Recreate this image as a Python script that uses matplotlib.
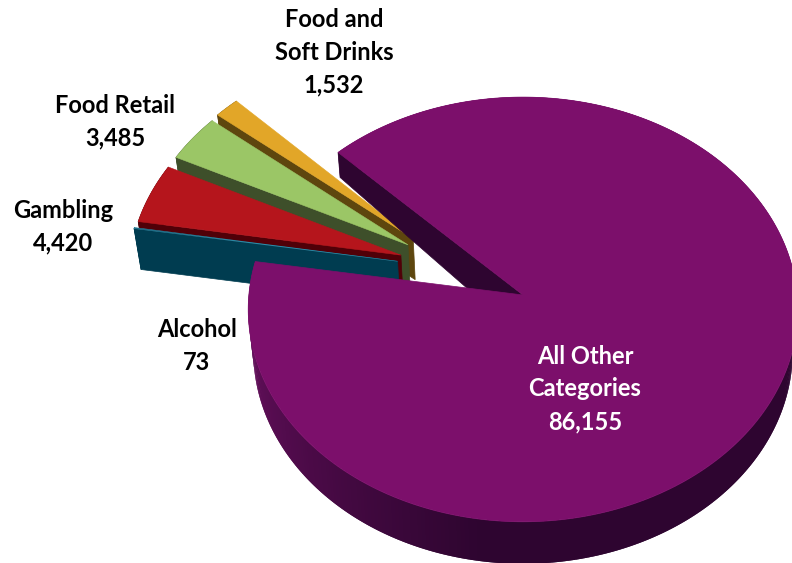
import numpy as np
import matplotlib
matplotlib.use("Agg")
import matplotlib.pyplot as plt
from matplotlib.colors import to_rgb
from matplotlib.patches import Polygon

categories = ["All Other\nCategories", "Alcohol", "Gambling", "Food Retail", "Food and\nSoft Drinks"]
values = [86155, 73, 4420, 3485, 1532]
top_colors = ["#7C0F6B", "#004056", "#B5151C", "#9BC666", "#E2A628"]
wall_colors = ["#2E0530", "#003C50", "#500008", "#3E4F2A", "#5E460E"]
label_xy = [(585, 389), (197, 346), (63, 227), (115, 122), (334, 52)]
label_colors = ["white", "black", "black", "black", "black"]

# camera used for the tilted disc
CX, CY = 523, 295
D = 14.7
F = 4030
C = 0.771
START = 135.0
EXPLODE = 0.49
DEPTH = 41


def project(x, y, depth=0.0):
    s = F / (D + y)
    px = CX + x * s
    py = CY - C * y * s + depth
    # vertical edges lean in slightly towards the middle
    px = px + (CX - px) * 0.018 * (depth / DEPTH)
    return px, py


def main_depth(y):
    return 42 - 17 * np.clip(y, 0, None) / 0.707


def arc(cx0, cy0, radius, a0, a1, n=200):
    t = np.radians(np.linspace(a0, a1, n))
    return cx0 + radius * np.cos(t), cy0 + radius * np.sin(t)


def draw_main(ax, a_start, a_end):
    xs, ys = arc(0, 0, 1.0, a_start, a_end, 400)
    # outer wall, lighter on the left and dark towards the front
    wall_left = np.array(to_rgb("#6A1060"))
    wall_dark = np.array(to_rgb("#2E0530"))
    for i in range(len(xs) - 1):
        j = min(i + 2, len(xs) - 1)
        quad = [project(xs[i], ys[i]), project(xs[j], ys[j]),
                project(xs[j], ys[j], main_depth(ys[j])), project(xs[i], ys[i], main_depth(ys[i]))]
        ang = np.degrees(np.arctan2(ys[i], xs[i])) % 360
        t = np.clip((ang - 180) / 82, 0, 1)
        col = (1 - t) * wall_left + t * wall_dark
        ax.add_patch(Polygon(quad, closed=True, fc=col, ec="none"))
    # inner cut face
    rim_x, rim_y = np.cos(np.radians(a_start)), np.sin(np.radians(a_start))
    face = [project(0, 0), project(rim_x, rim_y),
            project(rim_x, rim_y, main_depth(rim_y)), project(0, 0, main_depth(0))]
    ax.add_patch(Polygon(face, closed=True, fc=wall_colors[0], ec=wall_colors[0], lw=0.5))
    top = [project(0, 0)] + [project(a, b) for a, b in zip(xs, ys)]
    ax.add_patch(Polygon(top, closed=True, fc=top_colors[0], ec=top_colors[0], lw=0.5))


def draw_slice(ax, a_start, a_end, idx):
    mid = (a_start + a_end) / 2
    direction = np.radians(153 + 0.44 * (mid - 153))
    ox, oy = EXPLODE * np.cos(direction), EXPLODE * np.sin(direction)
    xs, ys = arc(ox, oy, 1.0, a_start, a_end, 40)
    wall = wall_colors[idx]
    # the outer wall then the cut face on the lower side
    low = np.argmax(np.degrees(np.arctan2(ys - oy, xs - ox)))
    lower_x, lower_y = xs[low], ys[low]
    outer = [project(a, b) for a, b in zip(xs, ys)] + [project(a, b, DEPTH) for a, b in zip(xs[::-1], ys[::-1])]
    ax.add_patch(Polygon(outer, closed=True, fc=wall, ec=wall, lw=0.5))
    face = [project(ox, oy), project(lower_x, lower_y),
            project(lower_x, lower_y, DEPTH), project(ox, oy, DEPTH)]
    ax.add_patch(Polygon(face, closed=True, fc=wall, ec=wall, lw=0.5))
    top = [project(ox, oy)] + [project(a, b) for a, b in zip(xs, ys)]
    edge = "#2F8CA8" if idx == 1 else top_colors[idx]
    ax.add_patch(Polygon(top, closed=True, fc=top_colors[idx], ec=edge, lw=0.4))


fig = plt.figure(figsize=(7.92, 5.63), dpi=100)
ax = fig.add_axes([0, 0, 1, 1])
ax.set_xlim(0, 792)
ax.set_ylim(563, 0)
ax.axis("off")

sweeps = np.array(values) / sum(values) * 360
ends = START - np.cumsum(sweeps)
begins = np.concatenate(([START], ends[:-1]))

# slices pulled out go back to front, the big one last
for i in [4, 3, 2, 1]:
    draw_slice(ax, ends[i] + 360, begins[i] + 360, i)
draw_main(ax, begins[0], ends[0])

for cat, val, (lx, ly), col in zip(categories, values, label_xy, label_colors):
    ax.text(lx, ly, f"{cat}\n{val:,}", ha="center", va="center", color=col,
            family="Lato", weight="bold", fontsize=17, linespacing=1.5, clip_on=False)

fig.savefig("out.png", dpi=100)
